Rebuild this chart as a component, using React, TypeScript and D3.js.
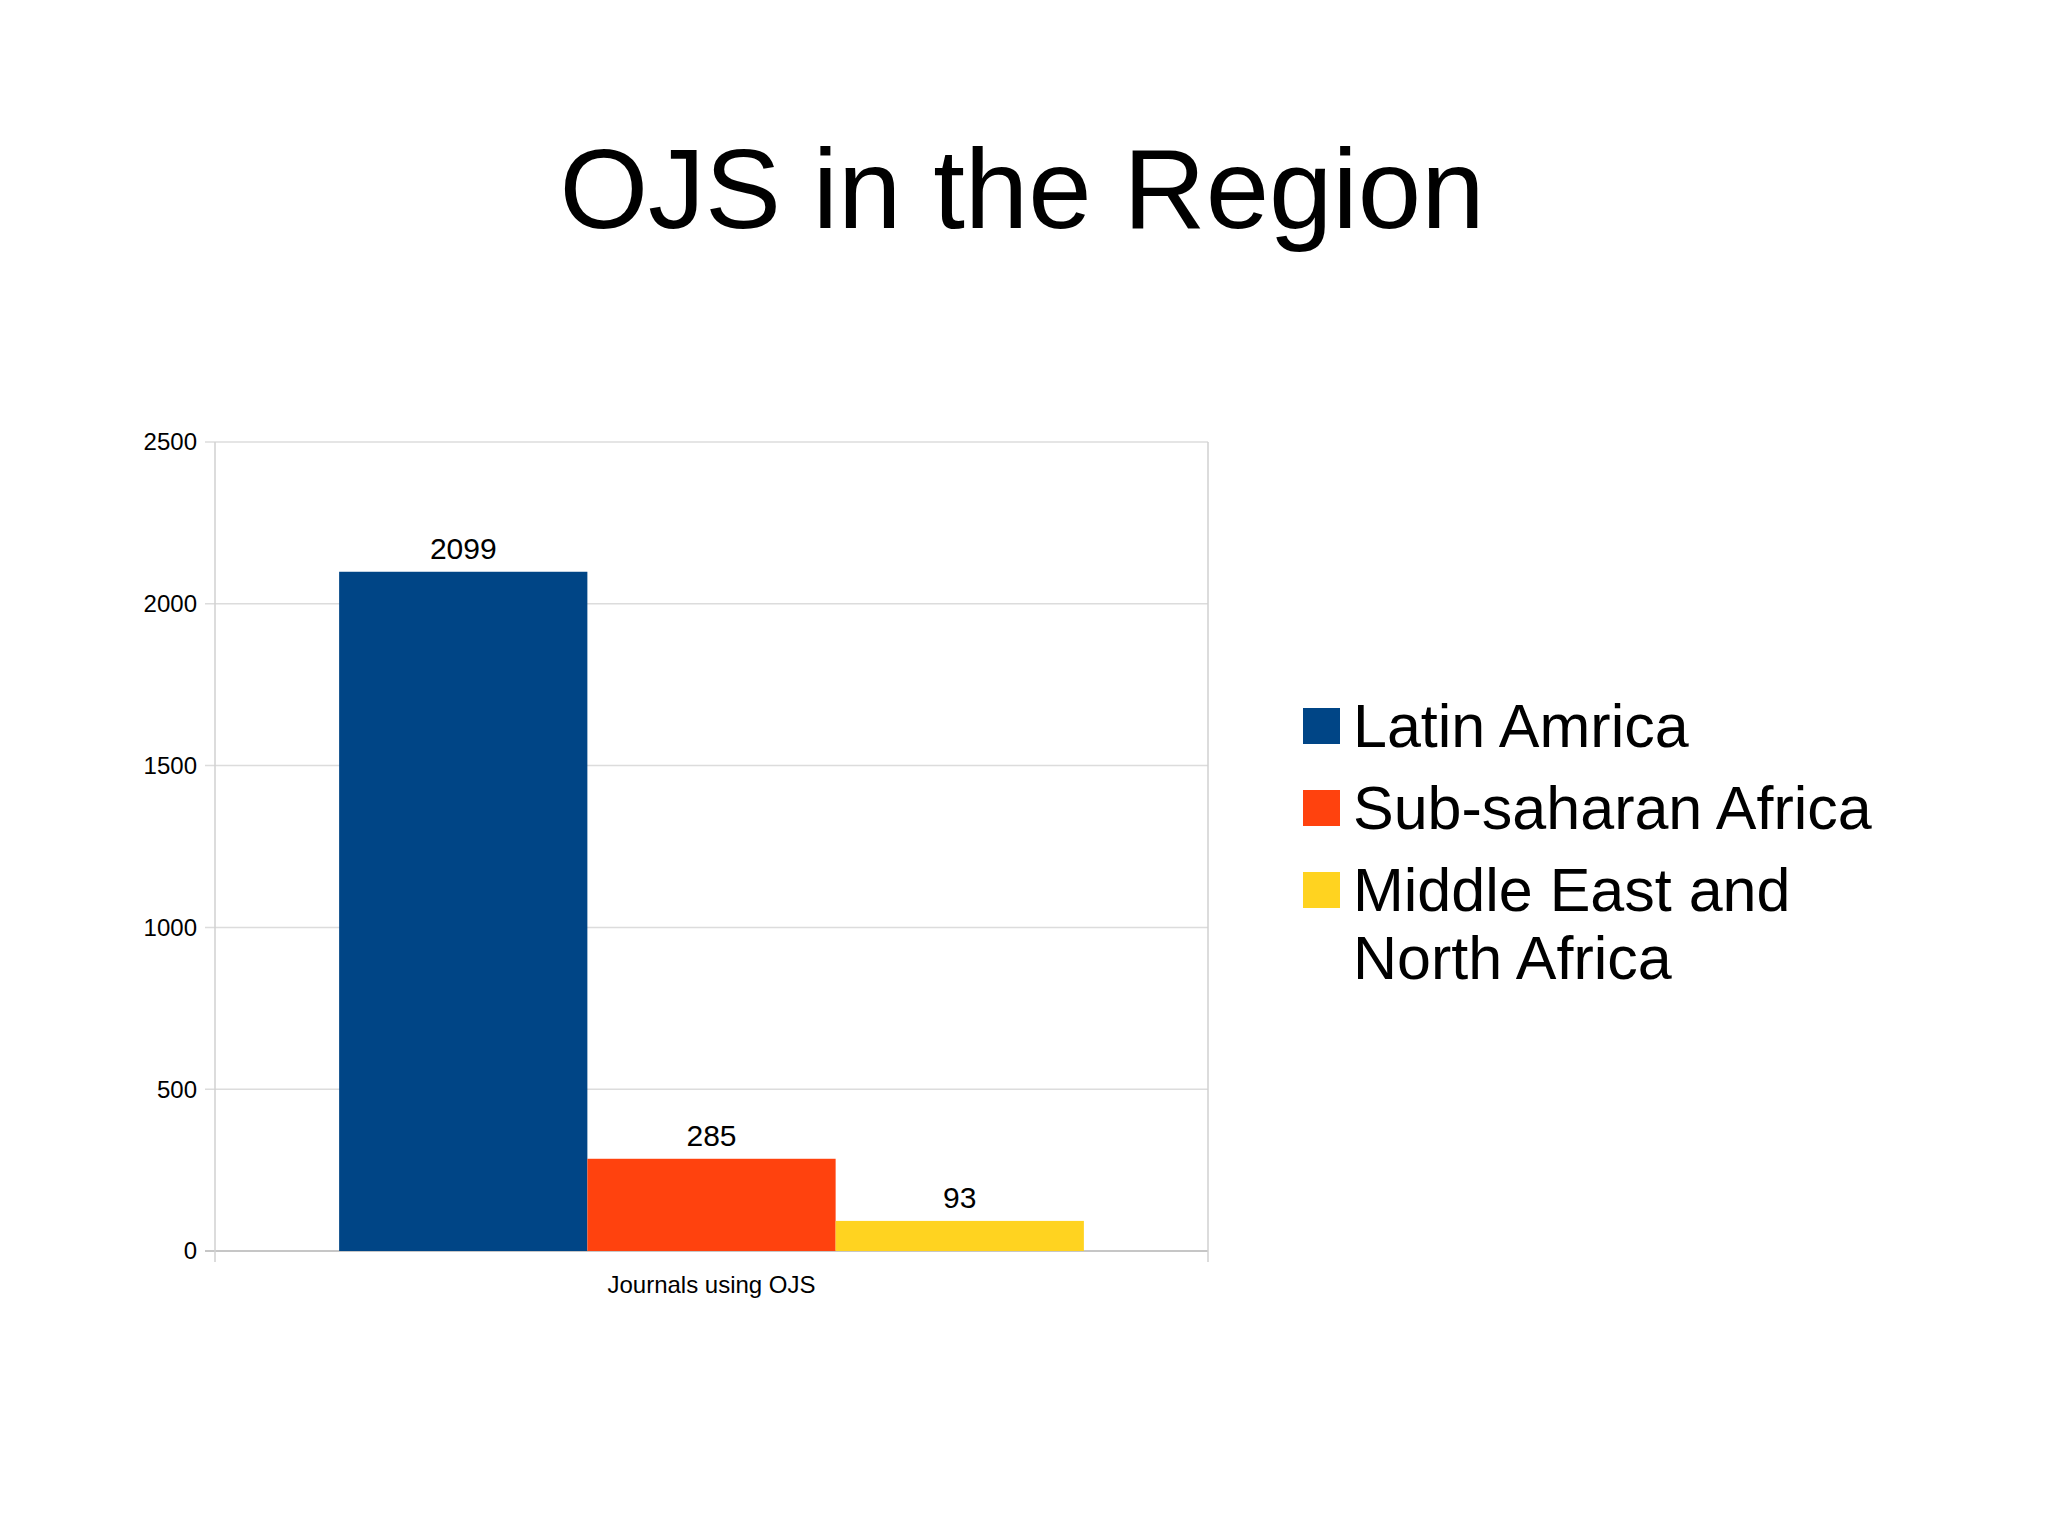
import React from "react";
import * as d3 from "d3";

const title = "OJS in the Region";
const category = "Journals using OJS";
const seriesNames = ["Latin Amrica", "Sub-saharan Africa", "Middle East and North Africa"];
const legendLines = [["Latin Amrica"], ["Sub-saharan Africa"], ["Middle East and", "North Africa"]];
const seriesValues = [2099, 285, 93];
const seriesColors = ["#004586", "#ff420e", "#ffd320"];
const yTicks = [0, 500, 1000, 1500, 2000, 2500];

const W = 2048;
const H = 1535;
const plot = { left: 215, right: 1208, top: 442, bottom: 1251 };
const font = "'Liberation Sans', Arial, sans-serif";

export default function App() {
  const y = d3.scaleLinear().domain([0, 2500]).range([plot.bottom, plot.top]);
  const xCat = d3.scaleBand().domain([category]).range([plot.left, plot.right]).paddingOuter(1 / 6).paddingInner(0);
  const bandStart = xCat(category)!;
  const xSeries = d3.scaleBand().domain(seriesNames).range([bandStart, bandStart + xCat.bandwidth()]);

  return (
    <svg width={W} height={H} style={{ position: "absolute", left: 0, top: 0, background: "#fff" }} fontFamily={font}>
      <rect x={0} y={0} width={W} height={H} fill="#fff" />
      <text x={1022} y={228} fontSize={114} textAnchor="middle" fill="#000">{title}</text>

      {yTicks.map((t) => (
        <g key={t}>
          <line x1={plot.left - 10} x2={plot.right} y1={y(t)} y2={y(t)} stroke={t === 0 ? "#b3b3b3" : "#dcdcdc"} strokeWidth={1.5} />
          <text x={197} y={y(t)} dy="0.35em" fontSize={24} textAnchor="end" fill="#000">{t}</text>
        </g>
      ))}
      <line x1={plot.left} x2={plot.left} y1={plot.top} y2={plot.bottom + 11} stroke="#d0d0d0" strokeWidth={1.5} />
      <line x1={plot.right} x2={plot.right} y1={plot.top} y2={plot.bottom + 11} stroke="#d0d0d0" strokeWidth={1.5} />

      {seriesNames.map((s, i) => (
        <g key={s}>
          <rect x={xSeries(s)!} y={y(seriesValues[i])} width={xSeries.bandwidth()} height={y(0) - y(seriesValues[i])} fill={seriesColors[i]} />
          <text x={xSeries(s)! + xSeries.bandwidth() / 2} y={y(seriesValues[i]) - 13} fontSize={30} textAnchor="middle" fill="#000">{seriesValues[i]}</text>
        </g>
      ))}

      <text x={bandStart + xCat.bandwidth() / 2} y={1293} fontSize={24} textAnchor="middle" fill="#000">{category}</text>

      {(() => {
        let baseY = 747;
        return legendLines.map((lines, i) => {
          const by = baseY;
          baseY += 82 + (lines.length - 1) * 67.6;
          return (
            <g key={i}>
              <rect x={1303} y={by - 39} width={37} height={36} fill={seriesColors[i]} />
              {lines.map((l, j) => (
                <text key={j} x={1353} y={by + j * 67.6} fontSize={61} fill="#000">{l}</text>
              ))}
            </g>
          );
        });
      })()}
    </svg>
  );
}
